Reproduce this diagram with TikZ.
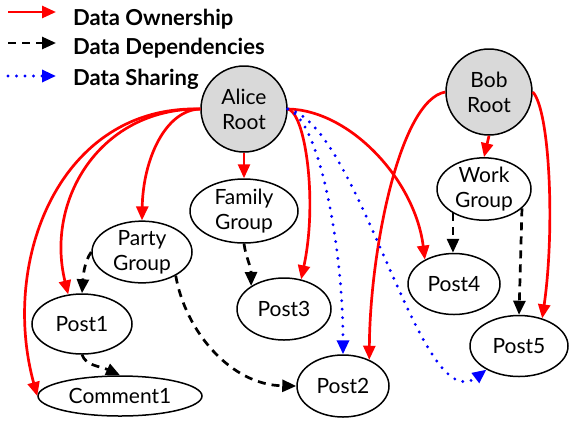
\documentclass[tikz,border=0pt]{standalone}
\usepackage{fontspec}
\setmainfont{Lato}
\usetikzlibrary{shapes.geometric,arrows.meta}
\definecolor{rootgray}{HTML}{D9D9D9}
\begin{document}
\begin{tikzpicture}[x=1pt,y=-1pt,
  every node/.style={font=\fontsize{21}{25}\selectfont, align=center, inner sep=0pt},
  root/.style={circle, draw, line width=1.5pt, fill=rootgray, minimum size=86pt},
  obj/.style={ellipse, draw, line width=1.5pt},
  tip/.style={-{Triangle[length=14pt,width=12pt]}},
  own/.style={draw=red, line width=2.7pt, tip},
  dep/.style={draw=black, line width=2.7pt, dash pattern=on 8pt off 6pt, tip},
  share/.style={draw=blue, line width=3.2pt, line cap=round, dash pattern=on 0pt off 8.5pt, tip},
  legtext/.style={anchor=base west, font=\fontsize{22}{26}\selectfont\bfseries},
]
\useasboundingbox (0,0) rectangle (569,421);

% legend
\coordinate (l1a) at (8,12);  \coordinate (l1b) at (56,12);
\coordinate (l2a) at (8,43);  \coordinate (l2b) at (56,43);
\coordinate (l3a) at (8,76);  \coordinate (l3b) at (56,76);
\draw[own] (l1a) -- (l1b);
\draw[dep] (l2a) -- (l2b);
\draw[share] (l3a) -- (l3b);
\node[legtext] (t1) at (73,25) {Data Ownership};
\node[legtext] (t2) at (73,54) {Data Dependencies};
\node[legtext] (t3) at (73,85) {Data Sharing};

% nodes
\node[root] (alice) at (244,109) {Alice\\Root};
\node[root] (bob) at (489,92) {Bob\\Root};
\node[obj, minimum width=108pt, minimum height=64pt] (family) at (244,211) {Family\\Group};
\node[obj, minimum width=100pt, minimum height=60pt] (party) at (142,252) {Party\\Group};
\node[obj, minimum width=100pt, minimum height=60pt] (post1) at (82,324) {Post1};
\node[obj, minimum width=164pt, minimum height=40pt] (comment1) at (120,396) {Comment1};
\node[obj, minimum width=94pt, minimum height=62pt] (post3) at (284,309) {Post3};
\node[obj, minimum width=92pt, minimum height=62pt] (post2) at (343,386) {Post2};
\node[obj, minimum width=92pt, minimum height=61pt] (post4) at (454,284) {Post4};
\node[obj, minimum width=98pt, minimum height=61pt] (post5) at (519,346) {Post5};
\node[obj, minimum width=94pt, minimum height=62pt] (work) at (484,189) {Work\\Group};

% ownership
\draw[own] (alice.west) .. controls (60,105) and (0,260) .. (comment1.west);
\draw[own] (alice.west) .. controls (100,108) and (45,200) .. (post1.115);
\draw[own] (alice.west) .. controls (165,110) and (143,160) .. (party.north);
\draw[own] (alice.south) -- (family.north);
\draw[own] (alice.east) .. controls (305,112) and (318,200) .. (post3.60);
\draw[own] (alice.east) .. controls (350,110) and (415,180) .. (post4.140);
\draw[own] (bob.south) -- (work.north);
\draw[own] (bob.west) .. controls (400,100) and (370,250) .. (post2.45);
\draw[own] (bob.east) .. controls (550,110) and (555,230) .. (post5.50);

% dependencies
\draw[dep] (party.west) .. controls (84,262) and (83,278) .. (post1.north);
\draw[dep] (post1.south) .. controls (86,366) and (100,366) .. (comment1.north);
\draw[dep] (party.-35) .. controls (185,330) and (230,385) .. (post2.west);
\draw[dep] (family.south) .. controls (246,258) and (251,266) .. (post3.145);
\draw[dep] (work.-142) -- (work.-142 |- post4.north);
\draw[dep] (work.-27) -- (post5.north);

% sharing
\draw[share] (alice.east) .. controls (320,120) and (343,250) .. (post2.north);
\draw[share] (alice.east) .. controls (360,125) and (420,420) .. (post5.-144);
\end{tikzpicture}
\end{document}
